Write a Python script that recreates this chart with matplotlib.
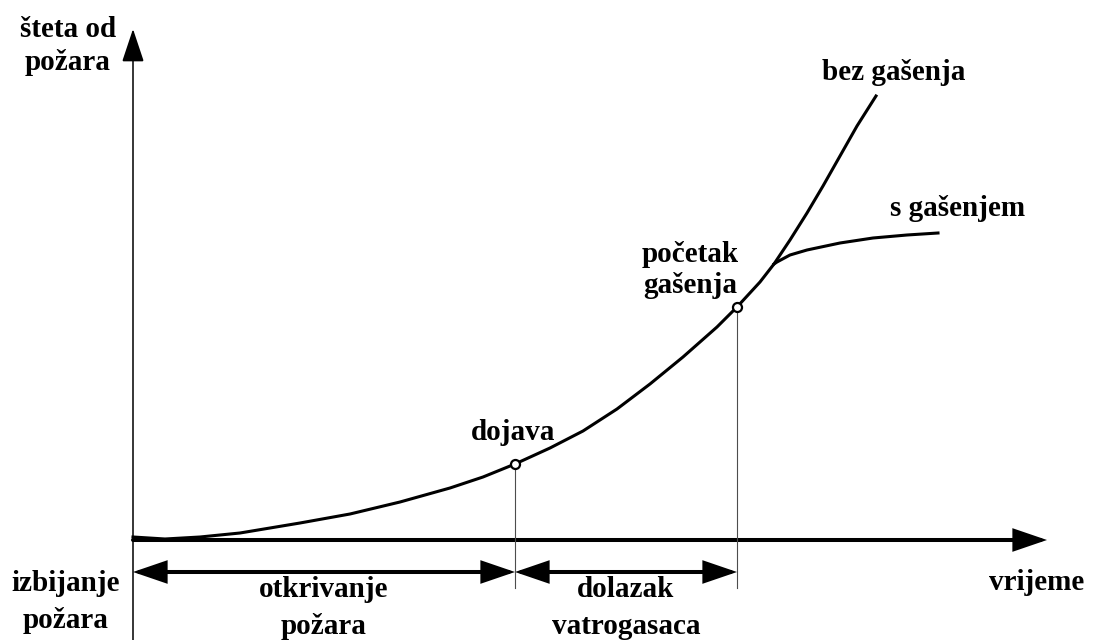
import matplotlib.pyplot as plt
from matplotlib.patches import FancyArrowPatch

plt.rcParams['font.family'] = ['Liberation Serif', 'DejaVu Serif']

# curve without extinguishing (time, damage)
t_bez = [0, 32, 67, 107, 167, 217, 267, 317, 350, 382, 417, 450, 484, 517, 550,
         584, 604, 627, 641, 657, 674, 690, 707, 724, 743]
d_bez = [3, 1, 3, 7, 17, 26, 38, 52, 63, 76, 92, 109, 131, 156, 183,
         213, 233, 258, 276, 300, 327, 354, 384, 414, 444]

# curve with extinguishing, branches off at t=641
t_sa = [641, 644, 657, 674, 707, 740, 774, 805]
d_sa = [276, 278, 285, 290, 297, 302, 305, 307]

# events on the curve
t_events = [382, 604]
d_events = [76, 233]
event_labels = ['dojava', 'početak\ngašenja']

# phases below the time axis
phases = [(0, 382, 'otkrivanje\npožara'), (382, 604, 'dolazak\nvatrogasaca')]

fig = plt.figure(figsize=(10.96, 6.4), dpi=100)
ax = fig.add_axes([0, 0, 1, 1])
ax.set_xlim(-133, 963)
ax.set_ylim(-100, 540)
ax.axis('off')

fs = 21
txt = dict(fontsize=fs, fontweight='bold', ha='center', va='center')


def arrow(x0, y0, x1, y1, style, lw, hl, hw):
    a = FancyArrowPatch((x0, y0), (x1, y1),
                        arrowstyle=f'{style},head_length={hl},head_width={hw}',
                        mutation_scale=1, lw=lw, color='black',
                        shrinkA=0, shrinkB=0, joinstyle='miter')
    ax.add_patch(a)


# axes
arrow(0, -100, 0, 511, '-|>', 1.1, 21, 7)
arrow(0, 0, 914, 0, '-|>', 2.9, 19, 6.5)

# drop lines from the events
for t, d in zip(t_events, d_events):
    ax.plot([t, t], [d, -48], color='0.3', lw=0.8)

# curves
ax.plot(t_bez, d_bez, color='black', lw=2.2, solid_joinstyle='round')
ax.plot(t_sa, d_sa, color='black', lw=2.2, solid_joinstyle='round')
ax.plot(t_events, d_events, 'o', ms=6.5, mfc='white', mec='black', mew=1.6)

# phase arrows
for t0, t1, lab in phases:
    arrow(t0, -32, t1, -32, '<|-|>', 2.9, 19, 6.5)
    ax.text((t0 + t1) / 2, -68, lab, linespacing=1.45, **txt)

# labels
ax.text(-65, 494, 'šteta od\npožara', linespacing=1.3, **txt)
ax.text(-67, -62, 'izbijanje\npožara', linespacing=1.5, **txt)
ax.text(904, -42, 'vrijeme', **txt)
ax.text(380, 107, event_labels[0], **txt)
ax.text(557, 270, event_labels[1], linespacing=1.2, **txt)
ax.text(761, 467, 'bez gašenja', **txt)
ax.text(825, 332, 's gašenjem', **txt)

fig.savefig('out.png', dpi=100)
